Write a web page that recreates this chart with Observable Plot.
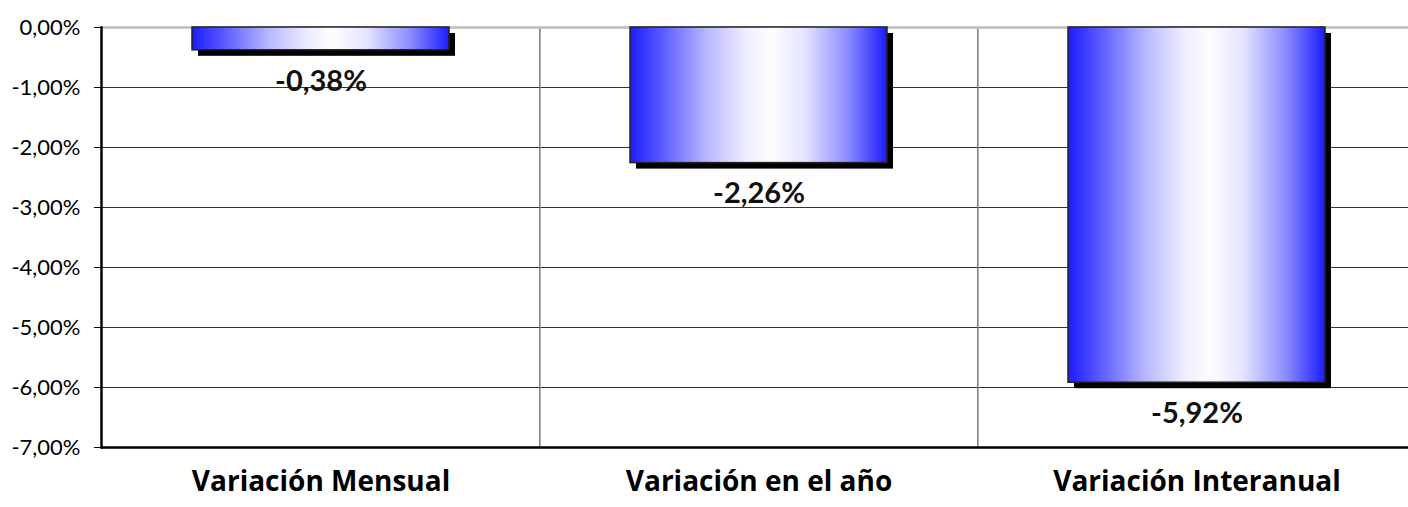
<!DOCTYPE html>
<html><head><meta charset="utf-8">
<script src="https://cdn.jsdelivr.net/npm/d3@7"></script>
<script src="https://cdn.jsdelivr.net/npm/@observablehq/plot@0.6"></script>
<style>html,body{margin:0;padding:0;background:#fff} svg{display:block}</style>
</head><body><div id="chart"></div>
<script>
const categories = ["Variación Mensual", "Variación en el año", "Variación Interanual"];
const values = [-0.38, -2.26, -5.92];
const yTicks = [0, -1, -2, -3, -4, -5, -6, -7];

const data = categories.map((c, i) => ({category: c, value: values[i]}));
const fmt = v => (v < 0 ? "-" : "") + Math.abs(v).toFixed(2).replace(".", ",") + "%";
const xRange = [101, 1416];
const step = (xRange[1] - xRange[0]) / categories.length;

const plot = Plot.plot({
  width: 1408, height: 507,
  marginTop: 27, marginBottom: 60, marginLeft: 101, marginRight: 0,
  style: {fontFamily: "Lato, 'Open Sans', sans-serif", background: "#fff", color: "#000"},
  x: {type: "band", domain: categories, range: xRange, paddingInner: 0.413, paddingOuter: 0.2065, axis: null},
  y: {domain: [-7, 0], axis: null},
  marks: [
    Plot.ruleY(yTicks.filter(t => t !== 0 && t !== -7), {stroke: "#333", strokeWidth: 1}),
    Plot.ruleX(categories.slice(1), {x: d => d, dx: -step / 2, stroke: "#7a7a7a", strokeWidth: 1.5}),
    Plot.ruleY([0], {stroke: "#bdbdbd", strokeWidth: 2.5}),
    Plot.barY(data, {x: "category", y: "value", fill: "#000", dx: 6, dy: 6}),
    Plot.barY(data, {x: "category", y: "value", fill: "url(#barGrad)", stroke: "#222", strokeWidth: 1.5}),
    Plot.text(data, {x: "category", y: "value", text: d => fmt(d.value), dy: 31, fontWeight: "bold", fontSize: 29, fill: "#111"}),
    Plot.text(data, {x: "category", text: "category", frameAnchor: "bottom", dy: 43, fontWeight: "bold", fontSize: 28, fontFamily: "'Open Sans', Lato, sans-serif", letterSpacing: 2.6, fill: "#000"}),
    Plot.ruleY([-7], {stroke: "#000", strokeWidth: 2.5}),
    Plot.frame({anchor: "left", stroke: "#000", strokeWidth: 2.5}),
    Plot.axisY({ticks: yTicks, tickFormat: fmt, label: null, tickSize: 7, tickPadding: 14, fontSize: 22, stroke: "#000", strokeWidth: 1, fill: "#000"})
  ]
});

const ns = "http://www.w3.org/2000/svg";
const defs = document.createElementNS(ns, "defs");
const grad = document.createElementNS(ns, "linearGradient");
grad.setAttribute("id", "barGrad");
grad.setAttribute("x1", "0"); grad.setAttribute("x2", "1");
grad.setAttribute("y1", "0"); grad.setAttribute("y2", "0");
[[0, "#1c1cff"], [0.12, "#5858ff"], [0.3, "#b8b8ff"], [0.45, "#ededff"], [0.55, "#fdfdff"], [0.68, "#e4e4ff"], [0.85, "#8a8aff"], [1, "#1c1cff"]].forEach(([o, c]) => {
  const s = document.createElementNS(ns, "stop");
  s.setAttribute("offset", o); s.setAttribute("stop-color", c);
  grad.appendChild(s);
});
defs.appendChild(grad);
plot.insertBefore(defs, plot.firstChild);
document.getElementById("chart").appendChild(plot);
</script>
</body></html>
